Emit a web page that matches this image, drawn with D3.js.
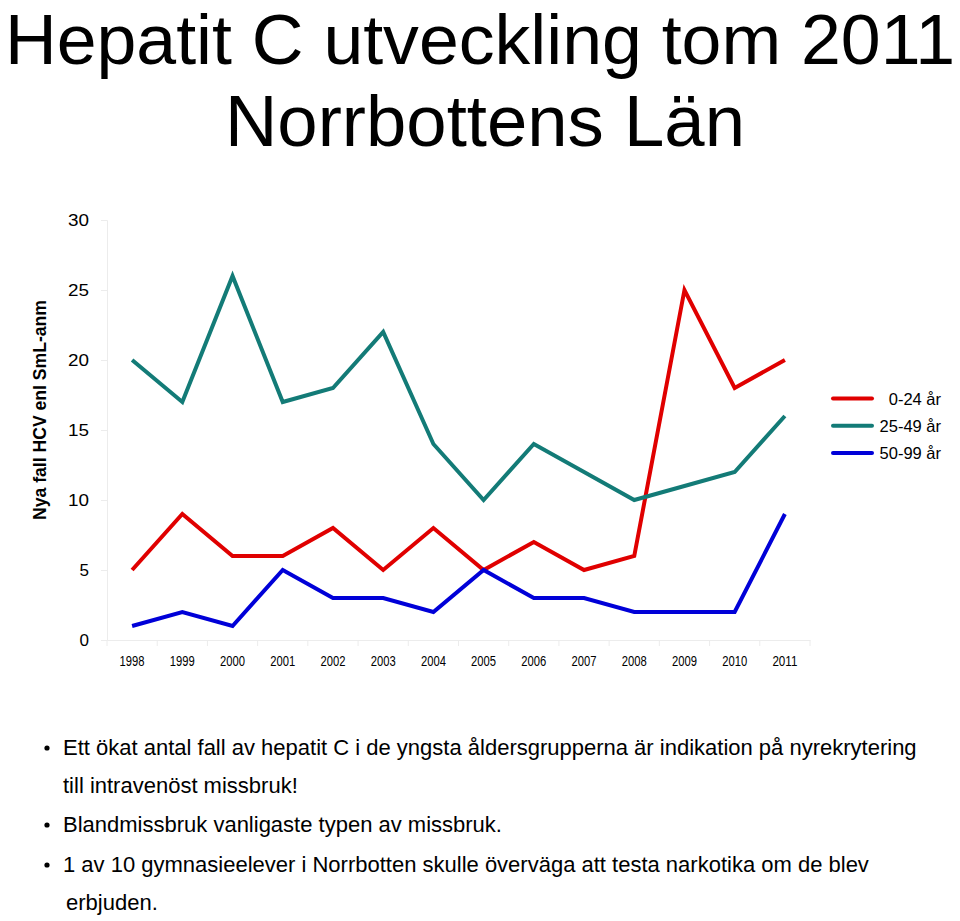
<!DOCTYPE html>
<html><head><meta charset="utf-8">
<script src="https://cdn.jsdelivr.net/npm/d3@7"></script>
<style>body{margin:0;background:#fff}svg{display:block;font-family:"Liberation Sans",Arial,sans-serif}</style>
</head><body>
<svg id="c" width="960" height="921"></svg>
<script>
const years = ["1998","1999","2000","2001","2002","2003","2004","2005","2006","2007","2008","2009","2010","2011"];
const young = [5,9,6,6,8,5,8,5,7,5,6,25,18,20];
const mid = [20,17,26,17,18,22,14,10,14,12,10,11,12,16];
const old = [1,2,1,5,3,3,2,5,3,3,2,2,2,9];
const seriesNames = ["0-24 år","25-49 år","50-99 år"];
const seriesColors = ["#e00000","#137b77","#0000d8"];
const yTicks = [0,5,10,15,20,25,30];
const titleLines = ["Hepatit C utveckling tom 2011","Norrbottens Län"];
const yTitle = "Nya fall HCV enl SmL-anm";
const bullets = [
  {bullet:true, text:"Ett ökat antal fall av hepatit C i de yngsta åldersgrupperna är indikation på nyrekrytering"},
  {bullet:false, text:"till intravenöst missbruk!"},
  {bullet:true, text:"Blandmissbruk vanligaste typen av missbruk."},
  {bullet:true, text:"1 av 10 gymnasieelever i Norrbotten skulle överväga att testa narkotika om de blev"},
  {bullet:false, text:"erbjuden."}
];

const svg = d3.select("#c");
// title
svg.append("text").attr("x",480).attr("y",64).attr("text-anchor","middle")
  .attr("font-size",70).attr("textLength",950).attr("lengthAdjust","spacingAndGlyphs").text(titleLines[0]);
svg.append("text").attr("x",485).attr("y",146).attr("text-anchor","middle")
  .attr("font-size",72).attr("textLength",520).attr("lengthAdjust","spacingAndGlyphs").text(titleLines[1]);

const x = d3.scaleBand().domain(years).range([107,810]);
const y = d3.scaleLinear().domain([0,30]).range([640,220]);

// y axis
const ya = svg.append("g").attr("transform","translate(107,0)")
  .call(d3.axisLeft(y).tickValues(yTicks).tickSize(6).tickPadding(12));
ya.select(".domain").attr("stroke","#ececec");
ya.selectAll(".tick line").attr("stroke","#ececec");
ya.selectAll(".tick text").attr("font-size",16.5).attr("font-family","Liberation Sans, Arial").attr("fill","#000")
  .attr("textLength",d=>d<10?9.5:21).attr("lengthAdjust","spacingAndGlyphs");

// x axis
const xa = svg.append("g").attr("transform","translate(0,640)")
  .call(d3.axisBottom(x).tickSize(0).tickPadding(15));
xa.select(".domain").attr("stroke","#ececec");
xa.selectAll(".tick text").attr("font-size",15.5).attr("font-family","Liberation Sans, Arial").attr("fill","#000")
  .attr("textLength",25).attr("lengthAdjust","spacingAndGlyphs");
svg.append("g").selectAll("line").data(years.concat(["end"])).join("line")
  .attr("x1",(d,i)=>107+i*x.step()).attr("x2",(d,i)=>107+i*x.step())
  .attr("y1",640).attr("y2",646).attr("stroke","#ececec");

// y title
svg.append("text").attr("transform","translate(46,410) rotate(-90)").attr("text-anchor","middle")
  .attr("font-size",17.5).attr("font-weight","bold").attr("textLength",220).attr("lengthAdjust","spacingAndGlyphs").text(yTitle);

// lines
const data = [young, mid, old];
const line = d3.line().x((d,i)=>x(years[i])+x.bandwidth()/2).y(d=>y(d));
data.forEach((s,k)=>{
  svg.append("path").datum(s).attr("d",line).attr("fill","none")
    .attr("stroke",seriesColors[k]).attr("stroke-width",4).attr("stroke-linejoin","miter");
});

// legend
const lg = svg.append("g");
seriesNames.forEach((n,k)=>{
  const yy = 398.5 + k*27.2;
  lg.append("line").attr("x1",833).attr("x2",872).attr("y1",yy).attr("y2",yy)
    .attr("stroke",seriesColors[k]).attr("stroke-width",4).attr("stroke-linecap","round");
  lg.append("text").attr("x",941).attr("y",yy+6).attr("text-anchor","end").attr("font-size",16.5).text(n);
});

// bullets
const baselines = [755,793,832,872,910];
bullets.forEach((b,i)=>{
  if(b.bullet) svg.append("circle").attr("cx",47).attr("cy",baselines[i]-7).attr("r",2.6).attr("fill","#000");
  svg.append("text").attr("x", i===4?66:63).attr("y",baselines[i]).attr("font-size",22).text(b.text);
});
</script>
</body></html>
